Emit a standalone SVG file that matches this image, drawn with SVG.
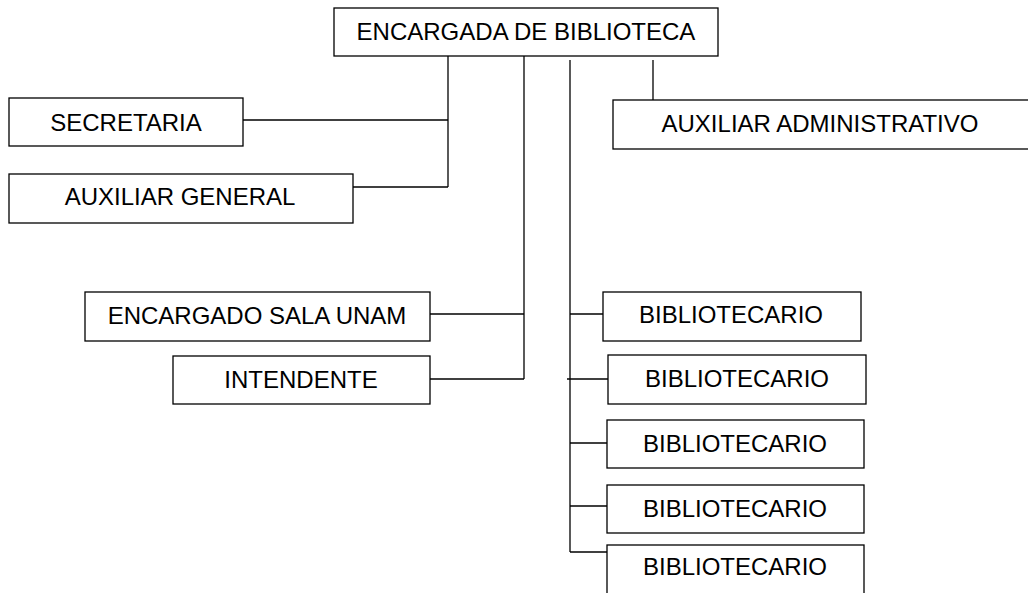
<svg xmlns="http://www.w3.org/2000/svg" width="1028" height="593" viewBox="0 0 1028 593">
<style>
.box{fill:#fff;stroke:#000;stroke-width:1.3}
.lbl{font-family:"Liberation Sans",Arial,sans-serif;font-size:24px;fill:#000;text-anchor:middle}
.con{fill:none;stroke:#000;stroke-width:1.3}
</style>
<rect width="1028" height="593" fill="#fff"/>
<g id="connectors">
<polyline class="con" points="448,56 448,187"/>
<line class="con" x1="243" y1="120" x2="448" y2="120"/>
<line class="con" x1="353" y1="187" x2="448" y2="187"/>
<polyline class="con" points="524,56 524,379"/>
<line class="con" x1="430" y1="314" x2="524" y2="314"/>
<line class="con" x1="430" y1="379" x2="524" y2="379"/>
<polyline class="con" points="570,60 570,552"/>
<line class="con" x1="653" y1="60" x2="653" y2="100"/>
<line class="con" x1="570" y1="314" x2="603" y2="314"/>
<line class="con" x1="567" y1="379" x2="608" y2="379"/>
<line class="con" x1="570" y1="443" x2="607" y2="443"/>
<line class="con" x1="570" y1="506" x2="607" y2="506"/>
<line class="con" x1="570" y1="552" x2="607" y2="552"/>
</g>
<g id="n-encargada"><rect class="box" x="334" y="8" width="384" height="48"/><text class="lbl" x="526" y="40">ENCARGADA DE BIBLIOTECA</text></g>
<g id="n-secretaria"><rect class="box" x="9" y="98" width="234" height="48"/><text class="lbl" x="126" y="131">SECRETARIA</text></g>
<g id="n-auxgeneral"><rect class="box" x="9" y="174" width="344" height="49"/><text class="lbl" x="180" y="205">AUXILIAR GENERAL</text></g>
<g id="n-auxadmin"><rect class="box" x="613" y="100" width="430" height="49"/><text class="lbl" x="820" y="132">AUXILIAR ADMINISTRATIVO</text></g>
<g id="n-salaunam"><rect class="box" x="85" y="292" width="345" height="49"/><text class="lbl" x="257" y="324">ENCARGADO SALA UNAM</text></g>
<g id="n-intendente"><rect class="box" x="173" y="356" width="257" height="48"/><text class="lbl" x="301" y="388">INTENDENTE</text></g>
<g id="n-biblio1"><rect class="box" x="603" y="292" width="258" height="49"/><text class="lbl" x="731" y="323">BIBLIOTECARIO</text></g>
<g id="n-biblio2"><rect class="box" x="608" y="355" width="258" height="49"/><text class="lbl" x="737" y="387">BIBLIOTECARIO</text></g>
<g id="n-biblio3"><rect class="box" x="607" y="420" width="257" height="48"/><text class="lbl" x="735" y="452">BIBLIOTECARIO</text></g>
<g id="n-biblio4"><rect class="box" x="607" y="485" width="257" height="48"/><text class="lbl" x="735" y="517">BIBLIOTECARIO</text></g>
<g id="n-biblio5"><rect class="box" x="607" y="545" width="257" height="60"/><text class="lbl" x="735" y="575">BIBLIOTECARIO</text></g>
</svg>
